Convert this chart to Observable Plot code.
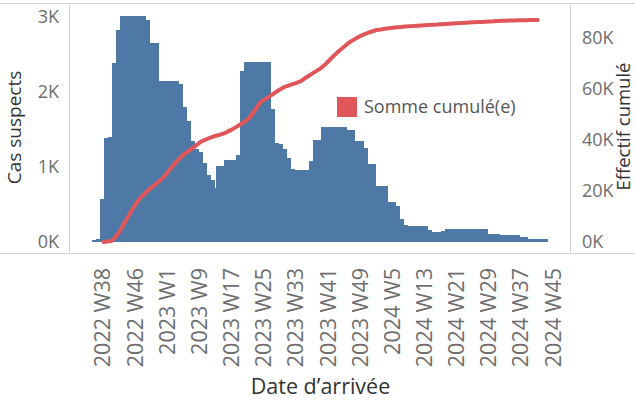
<!DOCTYPE html>
<html><head><meta charset="utf-8">
<script src="https://cdn.jsdelivr.net/npm/d3@7"></script>
<script src="https://cdn.jsdelivr.net/npm/@observablehq/plot@0.6"></script>
<style>
html,body{margin:0;padding:0;background:#fff;}
#chart svg{display:block;}
</style>
</head><body><div id="chart"></div>
<script>
// Week index 0 = 2022 W38 (one step = one week)
const tickWeeks = [0, 8, 16, 24, 32, 40, 48, 56, 64, 72, 80, 88, 96, 104, 112];
const tickLabels = ["2022 W38","2022 W46","2023 W1","2023 W9","2023 W17","2023 W25","2023 W33","2023 W41","2023 W49","2024 W5","2024 W13","2024 W21","2024 W29","2024 W37","2024 W45"];

// Cas suspects per week, starting at week index -2
const casFirstWeek = -2;
const casSuspects = [
  15, 30,
  567, 1390, 1400, 2390, 2825, 3010, 3010, 3010, 3010, 3010,
  3010, 2965, 2650, 2650, 2150, 2150, 2150, 2150, 2150, 2105,
  1800, 1615, 1350, 1230, 1190, 1055, 885, 820, 713, 1005,
  1005, 1085, 1085, 1085, 1150, 2280, 2400, 2400, 2400, 2400,
  2400, 2400, 1775, 1315, 1300, 1230, 1110, 970, 960, 960,
  960, 960, 1080, 1355, 1355, 1530, 1530, 1530, 1530, 1530,
  1530, 1490, 1490, 1345, 1345, 1255, 1035, 1035, 745, 745,
  745, 525, 525, 470, 305, 225, 212, 212, 212, 212,
  212, 158, 130, 125, 125, 145, 162, 162, 162, 162,
  162, 162, 162, 162, 162, 162, 95, 95, 95, 85,
  85, 85, 85, 85, 55, 55, 32, 32, 32, 32,
  32
];

// Somme cumulée (Effectif cumulé), starting at week index 0
const cumulFirstWeek = 0;
const effectifCumule = [
  0, 200, 400, 2050, 4150, 6900, 9650, 12400, 14900, 17050,
  18600, 20200, 21500, 22800, 24050, 25600, 27500, 29500, 31300, 33000,
  34500, 35600, 36700, 37900, 39200, 40000, 40700, 41300, 41800, 42200,
  42700, 43500, 44300, 45200, 46200, 47200, 48400, 50300, 52600, 54900,
  56000, 57000, 58000, 59100, 60100, 61000, 61500, 62100, 62600, 63200,
  64300, 65300, 66300, 67300, 68300, 69600, 71200, 72800, 74300, 75700,
  77000, 78400, 79300, 80200, 81100, 81800, 82400, 82900, 83400, 83600,
  83900, 84100, 84300, 84450, 84600, 84800, 84900, 84950, 85050, 85150,
  85250, 85350, 85450, 85500, 85600, 85700, 85800, 85900, 86000, 86100,
  86200, 86300, 86400, 86500, 86550, 86650, 86750, 86800, 86900, 87000,
  87050, 87100, 87150, 87200, 87200, 87250, 87300, 87300, 87300
];

const leftTicks = [0, 1000, 2000, 3000];
const rightTicks = [0, 20000, 40000, 60000, 80000];

// ---- build tables ----
const barHalf = 0.81; // bar half-width in weeks
const bars = casSuspects.map((v, k) => ({week: casFirstWeek + k, value: v}))
  .sort((a, b) => b.value - a.value); // shorter bars drawn on top
const cumul = effectifCumule.map((v, k) => ({week: cumulFirstWeek + k, value: v}));

// dual axis: right values expressed in left units
const ratio = 2.5425 / 74.8;
const fmtK = d => Math.round(d / 1000) + "K";

const W = 635, H = 405;
const mL = 70, mR = 65, mT = 3.5, mB = 151.5;
const px0 = 103, pxStep = 4.02;
const xDomain = [(mL - px0) / pxStep, (W - mR - px0) / pxStep];
const yDomain = [-12 / 74.8 * 1000, 238 / 74.8 * 1000];

const blue = "#4e79a7", red = "#e15759";
const font = "Open Sans";

const chart = Plot.plot({
  width: W, height: H,
  marginLeft: mL, marginRight: mR, marginTop: mT, marginBottom: mB,
  style: {fontFamily: font, background: "#fff", overflow: "visible"},
  x: {type: "linear", domain: xDomain},
  y: {domain: yDomain},
  marks: [
    Plot.rectY(bars, {x1: d => d.week - barHalf, x2: d => d.week + barHalf, y1: 0, y2: "value", fill: blue, shapeRendering: "crispEdges"}),
    Plot.line(cumul, {x: "week", y: d => d.value * ratio, stroke: red, strokeWidth: 4, strokeLinecap: "round", strokeLinejoin: "round"}),
    Plot.axisY({anchor: "left", ticks: leftTicks, tickFormat: fmtK, tickSize: 0, tickPadding: 11.5, fontSize: 18, fill: "#6e6e6e", label: null}),
    Plot.axisY({anchor: "right", ticks: rightTicks.map(t => t * ratio), tickFormat: d => fmtK(d / ratio), tickSize: 0, tickPadding: 11.5, fontSize: 18, fill: "#6e6e6e", label: null}),
    Plot.axisX({ticks: tickWeeks, tickFormat: d => tickLabels[tickWeeks.indexOf(d)], tickRotate: -90, tickSize: 0, tickPadding: 14, fontSize: 21.5, fill: "#6e6e6e", label: null}),
    Plot.text(["Cas suspects"], {text: d => d, frameAnchor: "left", textAnchor: "middle", dx: -56, dy: -1.5, rotate: -90, fontSize: 19, fill: "#333"}),
    Plot.text(["Effectif cumulé"], {text: d => d, frameAnchor: "right", textAnchor: "middle", dx: 53.5, dy: -2.5, rotate: -90, fontSize: 18.5, fill: "#333"}),
    Plot.text(["Date d’arrivée"], {text: d => d, frameAnchor: "bottom", dy: 139.5, fontSize: 21.5, fill: "#333"})
  ]
});

const svg = d3.select(chart);
const lineColor = "#d4d4d4";
const g = svg.append("g").attr("stroke", lineColor).attr("stroke-width", 1).attr("shape-rendering", "crispEdges");
g.append("line").attr("x1", 0).attr("x2", W).attr("y1", mT).attr("y2", mT);
g.append("line").attr("x1", 0).attr("x2", W).attr("y1", H - mB).attr("y2", H - mB);
g.append("line").attr("x1", mL - 0.5).attr("x2", mL - 0.5).attr("y1", mT).attr("y2", H - mB);
g.append("line").attr("x1", W - mR + 0.5).attr("x2", W - mR + 0.5).attr("y1", mT).attr("y2", H - mB);

// legend
const lg = svg.append("g");
lg.append("rect").attr("x", 337).attr("y", 97).attr("width", 20).attr("height", 20).attr("fill", red);
lg.append("text").attr("x", 364).attr("y", 107).attr("dy", "0.35em").attr("font-size", 18)
  .attr("text-anchor", "start").attr("font-family", font).attr("fill", "#555").text("Somme cumulé(e)");

document.getElementById("chart").appendChild(chart);
</script>
</body></html>
